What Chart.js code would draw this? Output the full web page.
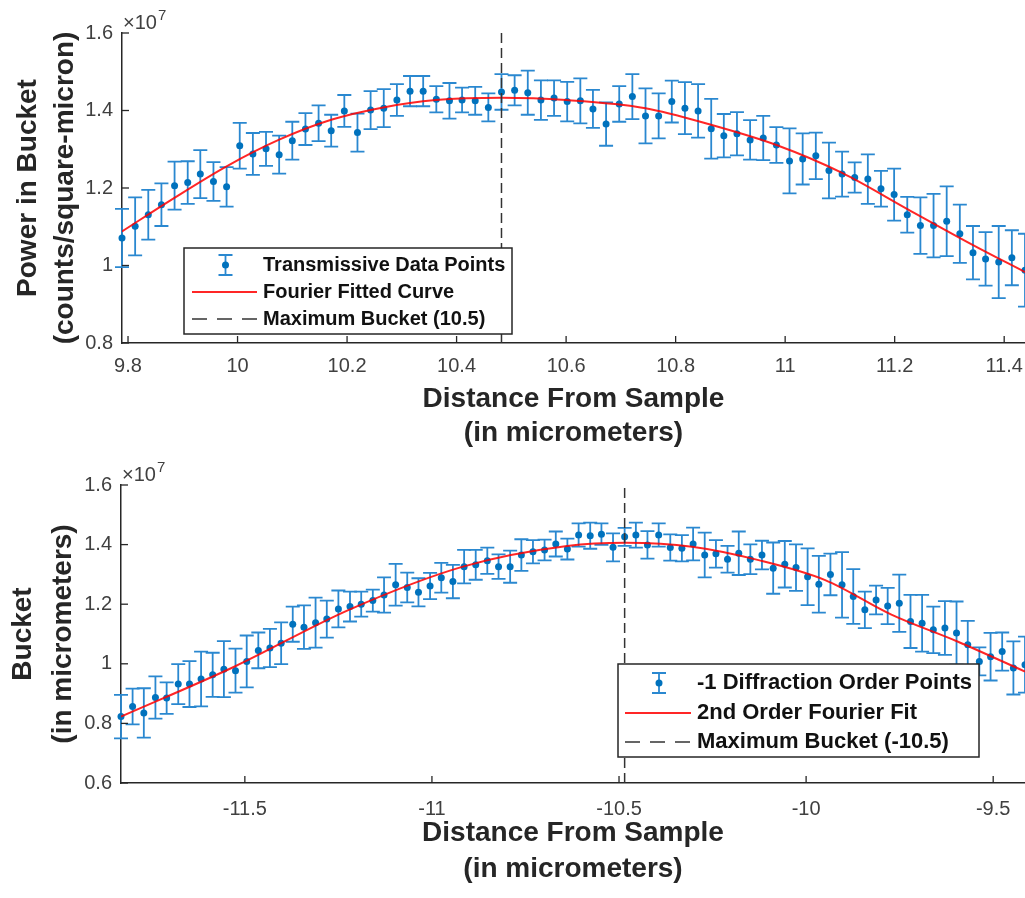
<!DOCTYPE html>
<html>
<head>
<meta charset="utf-8">
<script src="https://cdn.jsdelivr.net/npm/chart.js@4.4.1/dist/chart.umd.min.js"></script>
<style>
  html, body { margin: 0; padding: 0; background: #fff; }
  #wrap { position: relative; width: 1025px; height: 898px; }
  canvas { position: absolute; left: 0; }
  #topChart { top: 0; }
  #bottomChart { top: 450px; }
</style>
</head>
<body>
<div id="wrap">
  <canvas id="topChart" width="1025" height="450"></canvas>
  <canvas id="bottomChart" width="1025" height="448"></canvas>
</div>
<script>
// values are in units of 1e7 (shown as x10^7 on the axis)

// top panel: transmissive data
const topX = [9.789, 9.813, 9.837, 9.861, 9.885, 9.909, 9.932, 9.956, 9.980, 10.004,
  10.028, 10.052, 10.076, 10.100, 10.124, 10.148, 10.171, 10.195, 10.219, 10.243,
  10.267, 10.291, 10.315, 10.339, 10.363, 10.387, 10.410, 10.434, 10.458, 10.482,
  10.506, 10.530, 10.554, 10.578, 10.602, 10.626, 10.649, 10.673, 10.697, 10.721,
  10.745, 10.769, 10.793, 10.817, 10.841, 10.865, 10.888, 10.912, 10.936, 10.960,
  10.984, 11.008, 11.032, 11.056, 11.080, 11.104, 11.127, 11.151, 11.175, 11.199,
  11.223, 11.247, 11.271, 11.295, 11.319, 11.343, 11.366, 11.390, 11.414, 11.438];
const topPower = [1.071, 1.101, 1.131, 1.157, 1.206, 1.214, 1.236, 1.217, 1.203, 1.309,
  1.288, 1.301, 1.286, 1.322, 1.352, 1.367, 1.348, 1.399, 1.343, 1.401,
  1.406, 1.427, 1.450, 1.450, 1.429, 1.425, 1.427, 1.425, 1.408, 1.448,
  1.452, 1.446, 1.427, 1.432, 1.423, 1.425, 1.404, 1.365, 1.417, 1.436,
  1.386, 1.386, 1.423, 1.406, 1.399, 1.353, 1.335, 1.340, 1.324, 1.329,
  1.311, 1.270, 1.275, 1.283, 1.245, 1.236, 1.227, 1.223, 1.198, 1.183,
  1.131, 1.103, 1.103, 1.114, 1.082, 1.033, 1.017, 1.009, 1.020, 0.988];
const topErr = [0.075, 0.075, 0.064, 0.055, 0.062, 0.055, 0.062, 0.050, 0.051, 0.059,
  0.054, 0.044, 0.049, 0.049, 0.041, 0.046, 0.041, 0.041, 0.049, 0.049,
  0.049, 0.041, 0.039, 0.039, 0.034, 0.046, 0.032, 0.036, 0.036, 0.046,
  0.039, 0.057, 0.051, 0.046, 0.051, 0.058, 0.049, 0.056, 0.046, 0.058,
  0.071, 0.058, 0.054, 0.067, 0.069, 0.077, 0.056, 0.056, 0.051, 0.057,
  0.046, 0.084, 0.066, 0.060, 0.072, 0.058, 0.039, 0.064, 0.046, 0.067,
  0.046, 0.073, 0.082, 0.090, 0.075, 0.069, 0.069, 0.093, 0.071, 0.094];
const topFitX = [9.789, 9.884, 9.980, 10.075, 10.171, 10.266, 10.362, 10.483,
  10.600, 10.745, 10.865, 10.984, 11.104, 11.224, 11.344, 11.438];
const topFitY = [1.088, 1.174, 1.256, 1.324, 1.376, 1.408, 1.427, 1.433,
  1.427, 1.406, 1.363, 1.311, 1.239, 1.145, 1.052, 0.983];
const topMaxX = 10.482;
const topXTicks = [9.8, 10, 10.2, 10.4, 10.6, 10.8, 11, 11.2, 11.4];
const topXLabels = ['9.8', '10', '10.2', '10.4', '10.6', '10.8', '11', '11.2', '11.4'];
const topYTicks = [0.8, 1, 1.2, 1.4, 1.6];
const topYLabels = ['0.8', '1', '1.2', '1.4', '1.6'];

// bottom panel: -1 diffraction order
const bottomX = [-11.831, -11.800, -11.770, -11.739, -11.709, -11.678, -11.648, -11.617, -11.586, -11.556,
  -11.525, -11.495, -11.464, -11.433, -11.403, -11.372, -11.342, -11.311, -11.281, -11.250,
  -11.219, -11.189, -11.158, -11.128, -11.097, -11.066, -11.036, -11.005, -10.975, -10.944,
  -10.914, -10.883, -10.852, -10.822, -10.791, -10.761, -10.730, -10.699, -10.669, -10.638,
  -10.608, -10.577, -10.547, -10.516, -10.485, -10.455, -10.424, -10.394, -10.363, -10.332,
  -10.302, -10.271, -10.241, -10.210, -10.180, -10.149, -10.118, -10.088, -10.057, -10.027,
  -9.996, -9.966, -9.935, -9.904, -9.874, -9.843, -9.813, -9.782, -9.751, -9.721,
  -9.690, -9.660, -9.629, -9.598, -9.568, -9.537, -9.507, -9.476, -9.446, -9.415];
const bottomPower = [0.823, 0.857, 0.835, 0.887, 0.885, 0.932, 0.932, 0.949, 0.963, 0.982,
  0.977, 1.008, 1.045, 1.053, 1.069, 1.133, 1.123, 1.138, 1.150, 1.184,
  1.192, 1.200, 1.212, 1.231, 1.265, 1.256, 1.240, 1.261, 1.289, 1.276,
  1.326, 1.332, 1.346, 1.326, 1.326, 1.365, 1.376, 1.382, 1.402, 1.385,
  1.432, 1.430, 1.435, 1.391, 1.426, 1.432, 1.399, 1.432, 1.390, 1.388,
  1.402, 1.365, 1.369, 1.351, 1.371, 1.351, 1.365, 1.321, 1.334, 1.323,
  1.292, 1.267, 1.300, 1.265, 1.226, 1.181, 1.214, 1.194, 1.203, 1.142,
  1.136, 1.114, 1.120, 1.103, 1.064, 1.008, 1.024, 1.041, 0.986, 0.997];
const bottomErr = [0.073, 0.060, 0.083, 0.071, 0.053, 0.067, 0.077, 0.092, 0.074, 0.094,
  0.074, 0.087, 0.060, 0.064, 0.070, 0.059, 0.073, 0.084, 0.062, 0.062,
  0.050, 0.042, 0.037, 0.059, 0.070, 0.050, 0.047, 0.044, 0.050, 0.056,
  0.056, 0.050, 0.044, 0.041, 0.054, 0.053, 0.039, 0.035, 0.042, 0.035,
  0.039, 0.044, 0.036, 0.047, 0.030, 0.042, 0.046, 0.039, 0.044, 0.044,
  0.055, 0.075, 0.046, 0.045, 0.073, 0.050, 0.048, 0.086, 0.078, 0.078,
  0.095, 0.095, 0.070, 0.110, 0.092, 0.061, 0.048, 0.061, 0.096, 0.089,
  0.095, 0.078, 0.090, 0.106, 0.080, 0.047, 0.080, 0.064, 0.089, 0.094];
const bottomFitX = [-11.831, -11.527, -11.222, -10.917, -10.639, -10.483, -10.305,
  -10.127, -9.949, -9.772, -9.594, -9.415];
const bottomFitY = [0.823, 0.991, 1.181, 1.326, 1.395, 1.406, 1.393,
  1.348, 1.281, 1.165, 1.074, 0.974];
const bottomMaxX = -10.485;
const bottomXTicks = [-11.5, -11, -10.5, -10, -9.5];
const bottomXLabels = ['-11.5', '-11', '-10.5', '-10', '-9.5'];
const bottomYTicks = [0.6, 0.8, 1, 1.2, 1.4, 1.6];
const bottomYLabels = ['0.6', '0.8', '1', '1.2', '1.4', '1.6'];

Chart.defaults.font.family = '"Liberation Sans", Arial, sans-serif';

const AXIS = '#262626';
const BLUE = '#0072bd';
const BAR = '#2a88d0';

// matlab-style error bars, drawn under the dots
const errorBarPlugin = {
  id: 'errorBars',
  beforeDatasetDraw(chart, args) {
    const ds = chart.data.datasets[args.index];
    if (!ds.errors) return;
    const { ctx, scales } = chart;
    ctx.save();
    ctx.strokeStyle = BAR;
    ctx.lineWidth = 1.8;
    ds.data.forEach((p, i) => {
      const x = scales.x.getPixelForValue(p.x);
      const lo = scales.y.getPixelForValue(p.y - ds.errors[i]);
      const hi = scales.y.getPixelForValue(p.y + ds.errors[i]);
      ctx.beginPath();
      ctx.moveTo(x, lo); ctx.lineTo(x, hi);
      ctx.moveTo(x - 7, lo); ctx.lineTo(x + 7, lo);
      ctx.moveTo(x - 7, hi); ctx.lineTo(x + 7, hi);
      ctx.stroke();
    });
    ctx.restore();
  }
};

// inward ticks and the x10^7 exponent, like the matlab axes
const axisDecorPlugin = {
  id: 'axisDecor',
  afterDraw(chart) {
    const { ctx, chartArea: a, scales } = chart;
    ctx.save();
    ctx.strokeStyle = AXIS;
    ctx.lineWidth = 1.3;
    scales.x.ticks.forEach(t => {
      const x = scales.x.getPixelForValue(t.value);
      ctx.beginPath(); ctx.moveTo(x, a.bottom); ctx.lineTo(x, a.bottom - 7); ctx.stroke();
    });
    scales.y.ticks.forEach(t => {
      const y = scales.y.getPixelForValue(t.value);
      ctx.beginPath(); ctx.moveTo(a.left, y); ctx.lineTo(a.left + 7, y); ctx.stroke();
    });
    ctx.fillStyle = '#404040';
    ctx.textBaseline = 'alphabetic';
    ctx.font = '20px "Liberation Sans", Arial, sans-serif';
    ctx.fillText('\u00d710', a.left + 1, a.top - 4);
    const w = ctx.measureText('\u00d710').width;
    ctx.font = '15px "Liberation Sans", Arial, sans-serif';
    ctx.fillText('7', a.left + 2 + w, a.top - 13);
    ctx.restore();
  }
};

const boxLegendPlugin = {
  id: 'boxLegend',
  afterDraw(chart, args, o) {
    const { ctx } = chart;
    const b = o.box;
    ctx.save();
    ctx.fillStyle = '#fff';
    ctx.fillRect(b.x, b.y, b.w, b.h);
    ctx.strokeStyle = AXIS;
    ctx.lineWidth = 1.5;
    ctx.strokeRect(b.x, b.y, b.w, b.h);
    const [s0, s1] = o.sym;
    const sc = (s0 + s1) / 2 + 1;
    o.items.forEach((it, i) => {
      const y = o.rows[i];
      if (it.kind === 'errorbar') {
        ctx.strokeStyle = BAR;
        ctx.lineWidth = 1.8;
        ctx.beginPath();
        ctx.moveTo(sc, y - 10); ctx.lineTo(sc, y + 10);
        ctx.moveTo(sc - 7, y - 10); ctx.lineTo(sc + 7, y - 10);
        ctx.moveTo(sc - 7, y + 10); ctx.lineTo(sc + 7, y + 10);
        ctx.stroke();
        ctx.fillStyle = BLUE;
        ctx.beginPath(); ctx.arc(sc, y, 3.5, 0, Math.PI * 2); ctx.fill();
      } else {
        ctx.strokeStyle = it.kind === 'line' ? 'rgba(255,0,0,0.85)' : '#333';
        ctx.lineWidth = it.kind === 'line' ? 2 : 1.5;
        ctx.setLineDash(it.kind === 'line' ? [] : [15, 10]);
        ctx.beginPath(); ctx.moveTo(s0, y); ctx.lineTo(s1, y); ctx.stroke();
        ctx.setLineDash([]);
      }
      ctx.fillStyle = '#111';
      ctx.font = o.font;
      ctx.textBaseline = 'middle';
      ctx.fillText(it.label, o.textX, y);
    });
    ctx.restore();
  }
};

function buildChart(id, c) {
  const points = c.x.map((x, i) => ({ x: x, y: c.y[i] }));
  const fit = c.fitX.map((x, i) => ({ x: x, y: c.fitY[i] }));
  return new Chart(document.getElementById(id), {
    type: 'scatter',
    data: {
      datasets: [
        { data: points, errors: c.err, pointRadius: 3.5, pointBackgroundColor: BLUE,
          pointBorderWidth: 0, showLine: false, clip: 6, order: 3 },
        { type: 'line', data: fit, borderColor: 'rgba(255,0,0,0.85)', borderWidth: 2,
          pointRadius: 0, cubicInterpolationMode: 'monotone', fill: false, order: 2 },
        { type: 'line', data: [{ x: c.maxX, y: c.yTicks[0] }, { x: c.maxX, y: c.yTicks[c.yTicks.length - 1] }],
          borderColor: '#333', borderWidth: 1.5, borderDash: [10, 5], pointRadius: 0, fill: false, order: 1 }
      ]
    },
    options: {
      responsive: false,
      animation: false,
      devicePixelRatio: 1,
      layout: { autoPadding: false, padding: { top: c.padTop, left: 0, right: 0, bottom: 0 } },
      plugins: {
        legend: { display: false },
        tooltip: { enabled: false },
        boxLegend: c.legend
      },
      scales: {
        x: {
          type: 'linear',
          min: c.xMin,
          max: c.xMax,
          afterBuildTicks: s => { s.ticks = c.xTicks.map(v => ({ value: v })); },
          afterFit: s => { s.height = c.xAxisH; s.paddingLeft = 0; s.paddingRight = 0; },
          grid: { display: false, drawTicks: false },
          border: { display: true, color: AXIS, width: 1.5 },
          ticks: {
            autoSkip: false, maxRotation: 0, padding: c.xTickPad, color: '#404040',
            font: { size: 20 },
            callback: v => c.xLabels[c.xTicks.indexOf(v)]
          },
          title: {
            display: true, text: ['Distance From Sample', '(in micrometers)'], color: AXIS,
            font: { size: 28, weight: 'bold', lineHeight: c.xTitleLH },
            padding: { top: 0, bottom: c.xTitlePad }
          }
        },
        y: {
          type: 'linear',
          min: c.yTicks[0],
          max: c.yTicks[c.yTicks.length - 1],
          afterBuildTicks: s => { s.ticks = c.yTicks.map(v => ({ value: v })); },
          afterFit: s => { s.width = c.yAxisW; s.paddingTop = 0; s.paddingBottom = 0; },
          grid: { display: false, drawTicks: false },
          border: { display: true, color: AXIS, width: 1.5 },
          ticks: {
            autoSkip: false, padding: 9, color: '#404040', font: { size: 20 },
            callback: v => c.yLabels[c.yTicks.indexOf(v)]
          },
          title: {
            display: true, text: c.yTitle, color: AXIS,
            font: { size: 28, weight: 'bold', lineHeight: c.yTitleLH },
            padding: { top: c.yTitlePad, bottom: 0 }
          }
        }
      }
    },
    plugins: [errorBarPlugin, axisDecorPlugin, boxLegendPlugin]
  });
}

buildChart('topChart', {
  x: topX, y: topPower, err: topErr, fitX: topFitX, fitY: topFitY, maxX: topMaxX,
  xMin: 9.789, xMax: 11.438, xTicks: topXTicks, xLabels: topXLabels,
  yTicks: topYTicks, yLabels: topYLabels,
  padTop: 33, xAxisH: 107, yAxisW: 122, xTickPad: 11,
  xTitleLH: '34px', xTitlePad: 0,
  yTitle: ['Power in Bucket', '(counts/square-micron)'], yTitleLH: '37px', yTitlePad: 9.5,
  legend: {
    box: { x: 184, y: 248, w: 328, h: 86 },
    rows: [265, 292, 319], sym: [192, 257], textX: 263,
    font: 'bold 20px "Liberation Sans", Arial, sans-serif',
    items: [
      { kind: 'errorbar', label: 'Transmissive Data Points' },
      { kind: 'line', label: 'Fourier Fitted Curve' },
      { kind: 'dash', label: 'Maximum Bucket (10.5)' }
    ]
  }
});

buildChart('bottomChart', {
  x: bottomX, y: bottomPower, err: bottomErr, fitX: bottomFitX, fitY: bottomFitY, maxX: bottomMaxX,
  xMin: -11.831, xMax: -9.415, xTicks: bottomXTicks, xLabels: bottomXLabels,
  yTicks: bottomYTicks, yLabels: bottomYLabels,
  padTop: 35, xAxisH: 115, yAxisW: 121, xTickPad: 14,
  xTitleLH: '36px', xTitlePad: 11,
  yTitle: ['Bucket', '(in micrometers)'], yTitleLH: '40px', yTitlePad: 3,
  legend: {
    box: { x: 618, y: 214, w: 361, h: 93 },
    rows: [233, 263, 292], sym: [625, 691], textX: 697,
    font: 'bold 22px "Liberation Sans", Arial, sans-serif',
    items: [
      { kind: 'errorbar', label: '-1 Diffraction Order Points' },
      { kind: 'line', label: '2nd Order Fourier Fit' },
      { kind: 'dash', label: 'Maximum Bucket (-10.5)' }
    ]
  }
});
</script>
</body>
</html>
